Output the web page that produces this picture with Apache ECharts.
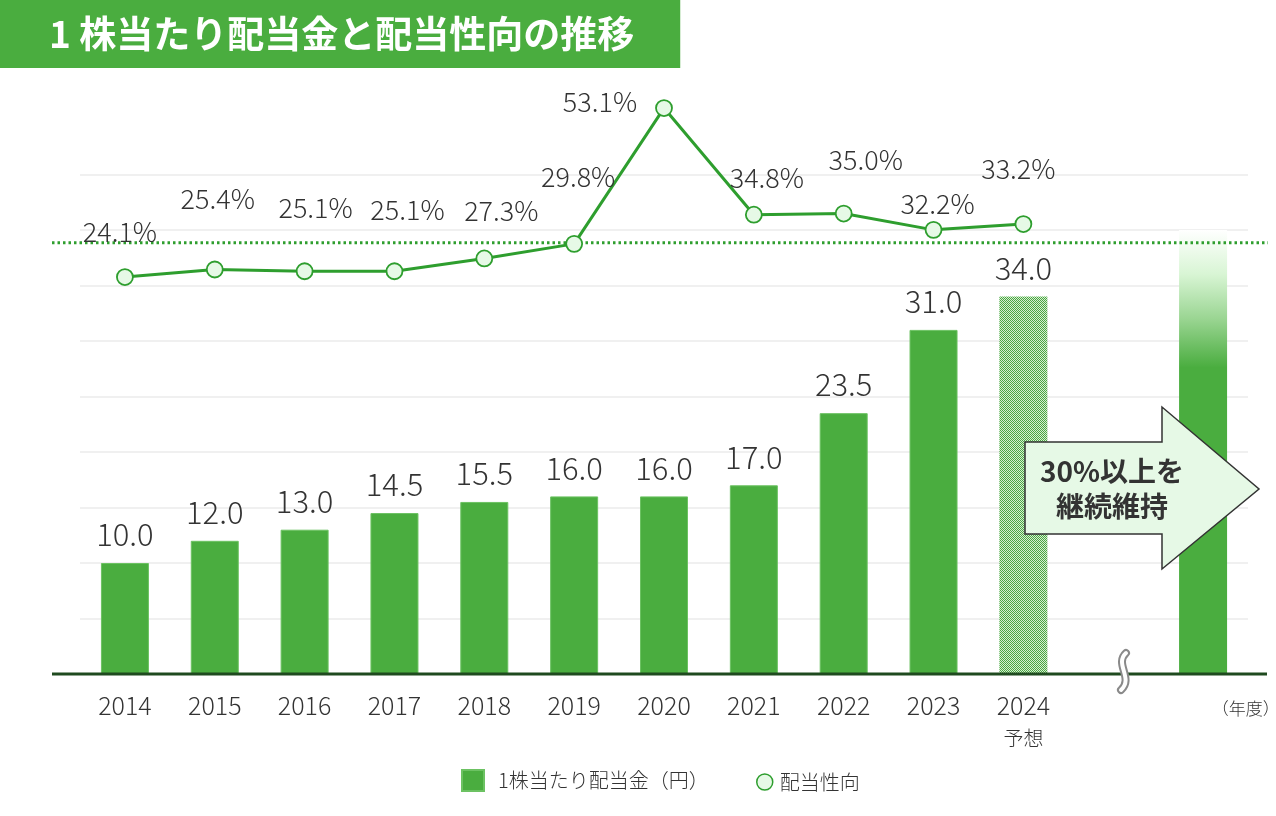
<!DOCTYPE html>
<html><head><meta charset="utf-8">
<script src="https://cdn.jsdelivr.net/npm/echarts@6/dist/echarts.min.js"></script>
<style>html,body{margin:0;padding:0;background:#fff}#c{width:1276px;height:816px}</style>
</head><body><div id="c"></div>
<script>
// ---- data ----
const years = ['2014','2015','2016','2017','2018','2019','2020','2021','2022','2023','2024'];
const forecastYear = '2024';
const forecastNote = '予想';
const dividend = [10.0, 12.0, 13.0, 14.5, 15.5, 16.0, 16.0, 17.0, 23.5, 31.0, 34.0];
const payoutRatio = [24.1, 25.4, 25.1, 25.1, 27.3, 29.8, 53.1, 34.8, 35.0, 32.2, 33.2];
const futureLevel = 40;      // symbolic "future" bar (no value shown)
const targetRatio = 30;      // 30% policy line
const barAxisMin = 0, barAxisMax = 45, barAxisStep = 5;
const titleText = '1 株当たり配当金と配当性向の推移';
const barName = '1株当たり配当金（円）';
const lineName = '配当性向';
const axisUnit = '（年度）';
const arrowText = '30%以上を\n継続維持';

// ---- styles (not data) ----
const FONT = '"Noto Sans CJK JP", "Noto Sans", sans-serif';
const GREEN = '#4aad3f';
const LINE_GREEN = '#2e9e2e';
const TEXT = '#333333';
const ratioLabelNudge = [[-5,-45],[3,-71],[11,-64],[13,-62],[17,-48],[4,-67],[-64,-6],[13,-37],[22,-54],[4,-26],[-5,-55]];

const categories = years.concat(['', ' ']);

function makePattern() {
  const c = document.createElement('canvas');
  c.width = 2; c.height = 2;
  const g = c.getContext('2d');
  g.fillStyle = '#d6efd2'; g.fillRect(0,0,2,2);
  g.fillStyle = '#4aa642'; g.fillRect(0,0,1,1); g.fillRect(1,1,1,1);
  return c;
}

const barData = dividend.map((v, i) => years[i] === forecastYear
  ? { value: v, itemStyle: { color: { image: makePattern(), repeat: 'repeat' }, borderWidth: 0 } }
  : v);
barData.push(null);
barData.push({
  value: futureLevel,
  label: { show: false },
  itemStyle: {
    borderWidth: 0,
    color: new echarts.graphic.LinearGradient(0, 0, 0, 1, [
      { offset: 0, color: 'rgba(255,255,255,1)' },
      { offset: 0.1, color: '#d8f5d4' },
      { offset: 0.2, color: '#9ad592' },
      { offset: 0.31, color: GREEN },
      { offset: 1, color: GREEN }
    ])
  }
});

const lineData = payoutRatio.map((v, i) => ({
  value: v,
  label: { offset: ratioLabelNudge[i] }
}));

const chart = echarts.init(document.getElementById('c'), null, { renderer: 'canvas' });
chart.setOption({
  animation: false,
  backgroundColor: '#fff',
  textStyle: { fontFamily: FONT },
  title: {
    text: titleText,
    left: 0, top: 0,
    backgroundColor: GREEN,
    padding: [14, 46, 14, 49],
    textStyle: { color: '#fff', fontSize: 37, fontWeight: 'bold', fontFamily: FONT, lineHeight: 40 }
  },
  grid: { left: 80, right: 28, top: 174.5, bottom: 142, containLabel: false, outerBoundsMode: 'none' },
  legend: [
    {
      data: [{ name: barName, icon: 'rect' }],
      left: 456, top: 764, itemWidth: 22, itemHeight: 21,
      textStyle: { fontSize: 20, color: TEXT, fontFamily: FONT, fontWeight: 300, padding: [0, 0, 0, 9] }
    },
    {
      data: [{ name: lineName, icon: 'circle', itemStyle: { color: '#e6f9e6', borderColor: LINE_GREEN, borderWidth: 1.5 } }],
      left: 751, top: 767, itemWidth: 16, itemHeight: 16,
      textStyle: { fontSize: 20, color: TEXT, fontFamily: FONT, fontWeight: 300, padding: [0, 0, 0, 2] }
    }
  ],
  xAxis: {
    type: 'category',
    data: categories,
    axisLine: { show: false },
    axisTick: { show: false },
    name: axisUnit,
    nameLocation: 'end',
    nameGap: 24,
    nameTextStyle: { fontSize: 17, color: TEXT, fontFamily: FONT, fontWeight: 300, align: 'right', verticalAlign: 'top', padding: [26, 0, 0, 0] },
    axisLabel: {
      margin: 17,
      interval: 0,
      color: TEXT,
      fontFamily: FONT,
      formatter: v => v === forecastYear ? '{a|' + v + '}\n{b|' + forecastNote + '}' : '{a|' + v + '}',
      rich: {
        a: { fontSize: 25, lineHeight: 29, color: TEXT, fontFamily: FONT, fontWeight: 300 },
        b: { fontSize: 20, lineHeight: 36, color: TEXT, fontFamily: FONT, fontWeight: 300 }
      }
    }
  },
  yAxis: [
    {
      type: 'value', min: barAxisMin, max: barAxisMax, interval: barAxisStep,
      axisLabel: { show: false }, axisLine: { show: false }, axisTick: { show: false },
      splitLine: { lineStyle: { color: '#ebebeb', width: 1.5 } }
    },
    {
      type: 'value', min: -44, max: 41.7, show: false,
      splitLine: { show: false }
    }
  ],
  series: [
    {
      name: barName,
      type: 'bar',
      barWidth: 48,
      data: barData,
      itemStyle: { color: GREEN, borderColor: '#6cc262', borderWidth: 1 },
      label: {
        show: true, position: 'top', distance: 13,
        fontSize: 31, color: TEXT, fontFamily: FONT, fontWeight: 300,
        formatter: p => p.value.toFixed(1)
      },
      z: 2
    },
    {
      name: lineName,
      type: 'line',
      yAxisIndex: 1,
      clip: false,
      data: lineData,
      symbol: 'circle',
      symbolSize: 16,
      lineStyle: { color: LINE_GREEN, width: 3 },
      itemStyle: { color: '#e6f9e6', borderColor: LINE_GREEN, borderWidth: 1.8 },
      label: {
        show: true, position: 'inside',
        fontSize: 27, color: TEXT, fontFamily: FONT, fontWeight: 300,
        formatter: p => p.value.toFixed(1) + '%'
      },
      z: 5
    }
  ]
});

// decorations positioned from the axes
const y0 = chart.convertToPixel({ yAxisIndex: 0 }, 0);
const yT = chart.convertToPixel({ yAxisIndex: 1 }, targetRatio);
chart.setOption({
  graphic: [
    { type: 'line', z: 10, shape: { x1: 52, y1: y0, x2: 1267, y2: y0 }, style: { stroke: '#1f4a1f', lineWidth: 3 } },
    { type: 'line', z: 3, shape: { x1: 52, y1: yT, x2: 1268, y2: yT }, style: { stroke: LINE_GREEN, lineWidth: 3, lineDash: [2.5, 3] } },
    { type: 'bezierCurve', z: 11, shape: { x1: 1126, y1: 653, cpx1: 1114, cpy1: 664, cpx2: 1134, cpy2: 678, x2: 1121, y2: 690 }, style: { stroke: '#8a8a8a', lineWidth: 8, fill: null, lineCap: 'round' } },
    { type: 'bezierCurve', z: 12, shape: { x1: 1126, y1: 653, cpx1: 1114, cpy1: 664, cpx2: 1134, cpy2: 678, x2: 1121, y2: 690 }, style: { stroke: '#ffffff', lineWidth: 4, fill: null, lineCap: 'round' } },
    { type: 'polygon', z: 20, shape: { points: [[1025,442],[1162,442],[1162,407],[1259,489],[1162,569],[1162,534],[1025,534]] }, style: { fill: '#e6f9e6', stroke: '#333', lineWidth: 1.5 } },
    { type: 'text', z: 21, style: { text: arrowText, x: 1112, y: 489, align: 'center', verticalAlign: 'middle', fontSize: 28, fontWeight: 'bold', fontFamily: FONT, lineHeight: 35, fill: '#333' } }
  ]
});
</script>
</body></html>
